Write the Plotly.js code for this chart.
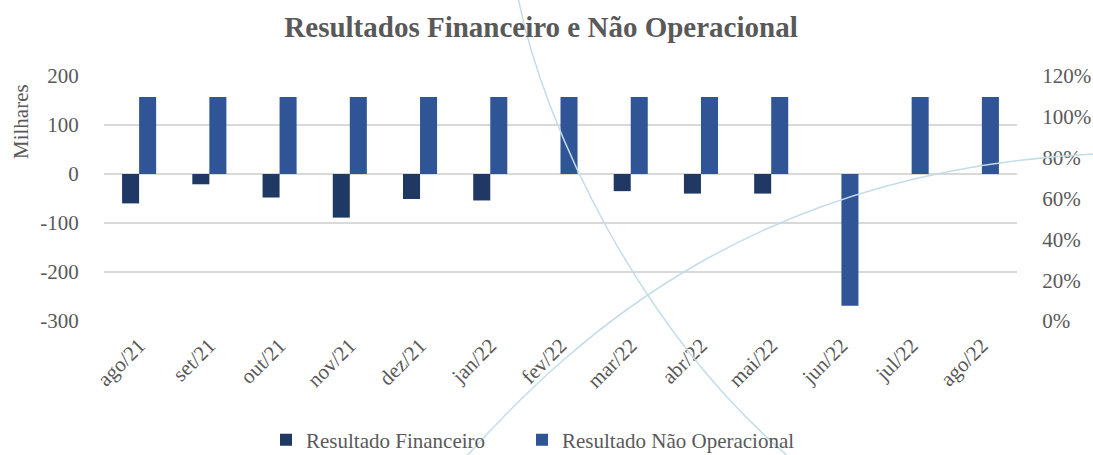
<!DOCTYPE html>
<html>
<head>
<meta charset="utf-8">
<script src="https://cdn.plot.ly/plotly-3.0.1.min.js"></script>
<style>html,body{margin:0;padding:0;background:#fff;}#chart{width:1093px;height:455px;}</style>
</head>
<body>
<div id="chart"></div>
<script>
const categories = ["ago/21","set/21","out/21","nov/21","dez/21","jan/22","fev/22","mar/22","abr/22","mai/22","jun/22","jul/22","ago/22"];
const resultadoFinanceiro = [-60, -21, -48, -89, -51, -54, 0, -35, -40, -40, 0, 0, 0];
const resultadoNaoOperacional = [157, 157, 157, 157, 157, 157, 157, 157, 157, 157, -269, 157, 157];
const leftTicks = [-300, -200, -100, 0, 100, 200];
const leftTickLabels = ["-300", "-200", "-100", "0", "100", "200"];
const rightTicks = [0, 0.2, 0.4, 0.6, 0.8, 1.0, 1.2];
const rightTickLabels = ["0%", "20%", "40%", "60%", "80%", "100%", "120%"];

const W = 1093, H = 455;
const M = {l: 104, r: 76, t: 76, b: 134};
const pw = W - M.l - M.r, ph = H - M.t - M.b;
function px(x){ return ((x - M.l) / pw).toFixed(4); }
function py(y){ return ((H - M.b - y) / ph).toFixed(4); }
function pathFrom(pts){
  return 'M ' + px(pts[0][0]) + ',' + py(pts[0][1]) + ' C ' +
    pts.slice(1).map(p => px(p[0]) + ',' + py(p[1])).join(' ');
}
const arcA = [[518,-2],[545,130],[640,330],[790,458]];
const arcB = [[465,458],[580,330],[760,170],[1095,154]];

const font = "Liberation Serif";
const grey = '#595959';

const traces = [
  {type:'bar', name:'Resultado Financeiro', x:categories, y:resultadoFinanceiro,
   marker:{color:'#1f3864'}, hoverinfo:'x+y', legend:'legend'},
  {type:'bar', name:'Resultado Não Operacional', x:categories, y:resultadoNaoOperacional,
   marker:{color:'#2f5597'}, hoverinfo:'x+y', legend:'legend2'},
  {type:'scatter', x:[categories[0]], y:[null], yaxis:'y2', mode:'none', showlegend:false, hoverinfo:'skip'}
];

const legendBase = {orientation:'h', xref:'container', yref:'container', xanchor:'left',
  y:(H-440)/H, yanchor:'middle', font:{family:font, size:21, color:grey}, itemwidth:30,
  bgcolor:'rgba(0,0,0,0)'};

const layout = {
  width: W, height: H,
  margin: M,
  paper_bgcolor:'#ffffff', plot_bgcolor:'rgba(0,0,0,0)',
  font:{family:font, color:grey, size:21},
  title:{text:'<b>Resultados Financeiro e Não Operacional</b>', font:{family:font, size:29, color:grey},
         xref:'container', x:0.495, xanchor:'center', yref:'container', y:0.94, yanchor:'middle'},
  barmode:'group', bargap:0.515, bargroupgap:0,
  showlegend:true,
  legend:Object.assign({}, legendBase, {x:(280-14)/W}),
  legend2:Object.assign({}, legendBase, {x:(535-13)/W}),
  xaxis:{type:'category', showline:false, showgrid:false, zeroline:false, automargin:false,
         ticks:'outside', ticklen:3, tickcolor:'rgba(0,0,0,0)', tickangle:-45,
         tickfont:{family:font, size:21, color:grey}},
  xaxis2:{type:'linear', overlaying:'x', anchor:'free', position:0.6, range:[-0.5,12.5],
          showline:true, linecolor:'#d9d9d9', linewidth:1.5, ticks:'outside', ticklen:6,
          tickcolor:'#d9d9d9', tickwidth:1.5, tick0:-0.5, dtick:1, showticklabels:false,
          showgrid:false, zeroline:false, fixedrange:true, automargin:false},
  yaxis:{range:[-300,200], tickvals:leftTicks, ticktext:leftTickLabels, showgrid:true, gridcolor:'#d9d9d9', gridwidth:1.5,
         zeroline:false, showline:false, ticks:'outside', ticklen:20, tickcolor:'rgba(0,0,0,0)', automargin:false,
         tickfont:{family:font, size:21, color:grey}},
  yaxis2:{overlaying:'y', side:'right', anchor:'x', range:[0,1.2], tickvals:rightTicks, ticktext:rightTickLabels,
          showgrid:false, zeroline:false, showline:false, automargin:false,
          ticks:'outside', ticklen:20, tickcolor:'rgba(0,0,0,0)',
          tickfont:{family:font, size:21, color:grey}},
  annotations:[
    {text:'Milhares', xref:'paper', yref:'paper', x:Number(px(21)), y:Number(py(122)),
     xanchor:'center', yanchor:'middle', textangle:-90, showarrow:false,
     font:{family:font, size:21, color:grey}}
  ],
  shapes:[
    {type:'path', xref:'paper', yref:'paper', path:pathFrom(arcA), line:{color:'#c3dde8', width:1.5}, layer:'above'},
    {type:'path', xref:'paper', yref:'paper', path:pathFrom(arcB), line:{color:'#c3dde8', width:1.5}, layer:'above'}
  ]
};

Plotly.newPlot('chart', traces, layout, {displayModeBar:false, staticPlot:true});
</script>
</body>
</html>
